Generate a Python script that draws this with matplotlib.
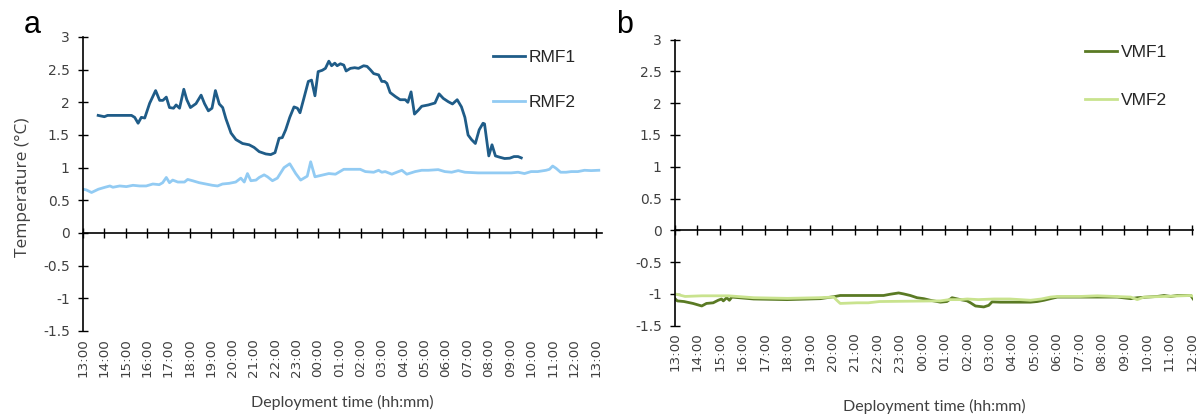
import matplotlib
matplotlib.use("Agg")
import matplotlib.pyplot as plt

# ---------------- data (hours since 13:00) ----------------
rmf1_h = [0.71, 1.00, 1.15, 2.27, 2.42, 2.58, 2.73, 2.89, 3.12, 3.40, 3.59, 3.74, 3.90, 4.05,
          4.24, 4.36, 4.52, 4.72, 4.86, 5.03, 5.29, 5.53, 5.69, 5.87, 6.04, 6.20, 6.38, 6.54,
          6.69, 6.93, 7.16, 7.47, 7.78, 8.01, 8.25, 8.56, 8.79, 8.99, 9.18, 9.33, 9.49, 9.68,
          9.88, 10.04, 10.16, 10.34, 10.55, 10.70, 10.86, 11.01, 11.20, 11.35, 11.51, 11.64,
          11.79, 11.90, 12.05, 12.21, 12.32, 12.52, 12.72, 12.90, 13.14, 13.30, 13.45, 13.61,
          13.84, 13.99, 14.12, 14.23, 14.38, 14.62, 14.85, 15.09, 15.21, 15.36, 15.52, 15.70,
          15.86, 16.17, 16.48, 16.67, 16.87, 17.10, 17.30, 17.52, 17.72, 17.88, 18.03, 18.19,
          18.37, 18.55, 18.73, 18.80, 19.00, 19.15, 19.31, 19.51, 19.74, 19.98, 20.18, 20.37,
          20.52]
rmf1_v = [1.80, 1.78, 1.80, 1.80, 1.77, 1.68, 1.77, 1.76, 1.985, 2.18, 2.03, 2.03, 2.08, 1.92,
          1.91, 1.96, 1.91, 2.20, 2.04, 1.92, 1.98, 2.11, 1.98, 1.87, 1.91, 2.18, 1.975, 1.92,
          1.75, 1.53, 1.43, 1.37, 1.35, 1.31, 1.245, 1.21, 1.20, 1.23, 1.45, 1.46, 1.58, 1.77,
          1.93, 1.91, 1.84, 2.06, 2.32, 2.34, 2.10, 2.47, 2.49, 2.52, 2.63, 2.56,
          2.60, 2.56, 2.59, 2.57, 2.48, 2.52, 2.53, 2.52, 2.56, 2.55, 2.50, 2.44,
          2.42, 2.32, 2.32, 2.29, 2.15, 2.09, 2.04, 2.04, 2.00, 2.16, 1.82, 1.88,
          1.94, 1.96, 1.99, 2.13, 2.06, 2.01, 1.975, 2.04, 1.93, 1.77, 1.50, 1.43,
          1.37, 1.58, 1.68, 1.67, 1.18, 1.35, 1.18, 1.16, 1.14, 1.145, 1.17, 1.17,
          1.15]

rmf2_h = [0.00, 0.15, 0.40, 0.72, 1.03, 1.26, 1.40, 1.72, 2.03, 2.34, 2.65, 2.96, 3.27, 3.57,
          3.73, 3.90, 4.05, 4.20, 4.44, 4.75, 4.90, 5.13, 5.44, 5.75, 6.06, 6.30, 6.53, 6.84,
          7.15, 7.39, 7.55, 7.70, 7.86, 8.10, 8.25, 8.48, 8.64, 8.87, 9.10, 9.41, 9.68, 9.96,
          10.19, 10.50, 10.66, 10.86, 11.12, 11.51, 11.82, 12.21, 12.98, 13.22, 13.61, 13.84,
          13.99, 14.15, 14.46, 14.69, 14.93, 15.16, 15.55, 15.86, 16.17, 16.63, 16.94, 17.26,
          17.57, 17.88, 18.50, 19.43, 20.05, 20.37, 20.67, 20.98, 21.29, 21.68, 21.84, 21.99,
          22.15, 22.36, 22.62, 22.86, 23.17, 23.48, 23.79, 24.15]
rmf2_v = [0.67, 0.66, 0.62, 0.67, 0.70, 0.72, 0.70, 0.72, 0.71, 0.73, 0.72, 0.72, 0.75, 0.74,
          0.77, 0.85, 0.77, 0.81, 0.78, 0.78, 0.82, 0.80, 0.77, 0.75, 0.73, 0.72, 0.75, 0.76,
          0.78, 0.84, 0.78, 0.91, 0.80, 0.81, 0.85, 0.89, 0.86, 0.80, 0.84, 1.00, 1.06, 0.91,
          0.81, 0.87, 1.09, 0.86, 0.88, 0.91, 0.90, 0.975, 0.975, 0.94, 0.93, 0.96,
          0.93, 0.94, 0.90, 0.93, 0.96, 0.90, 0.94, 0.96, 0.96, 0.97, 0.94, 0.93,
          0.955, 0.93, 0.92, 0.92, 0.92, 0.93, 0.91, 0.94, 0.94, 0.96, 0.975, 1.025,
          0.99, 0.93, 0.93, 0.94, 0.94, 0.96, 0.955, 0.96]

vmf1_h = [0.00, 0.10, 0.40, 0.80, 1.19, 1.40, 1.70, 1.92, 2.07, 2.15, 2.30, 2.42, 2.53, 3.50,
          4.98, 6.47, 7.13, 7.35, 9.28, 9.58, 9.95, 10.17, 10.47, 10.77, 11.07, 11.36, 11.81,
          12.10, 12.33, 12.70, 13.00, 13.15, 13.37, 13.74, 13.96, 14.11, 14.48, 15.08, 15.82,
          16.12, 16.42, 16.71, 17.01, 17.60, 18.79, 19.68, 20.28, 20.57, 21.02, 21.46, 21.76,
          22.06, 22.35, 22.95, 23.08]
vmf1_v = [-1.075, -1.11, -1.12, -1.15, -1.19, -1.15, -1.14, -1.10, -1.08, -1.11, -1.06, -1.10, -1.05, -1.08,
          -1.09, -1.075, -1.04, -1.025, -1.025, -1.005, -0.985, -1.00, -1.025, -1.06, -1.075, -1.10, -1.13,
          -1.12, -1.06, -1.09, -1.11, -1.14, -1.19, -1.205, -1.18, -1.125, -1.13, -1.13, -1.13,
          -1.12, -1.10, -1.075, -1.05, -1.05, -1.05, -1.05, -1.075, -1.06, -1.05, -1.04, -1.025,
          -1.04, -1.025, -1.025, -1.09]

vmf2_h = [0.00, 0.45, 1.20, 2.38, 3.50, 5.00, 6.40, 7.06, 7.20, 7.35, 8.10, 8.60, 9.10, 11.66,
          11.81, 12.20, 12.70, 13.00, 13.50, 14.20, 14.90, 15.82, 16.30, 16.71, 17.01, 18.05,
          18.79, 20.28, 20.57, 20.87, 21.76, 22.95, 23.08]
vmf2_v = [-1.00, -1.04, -1.03, -1.03, -1.06, -1.07, -1.06, -1.05, -1.10, -1.15, -1.14, -1.14, -1.12, -1.11,
          -1.11, -1.09, -1.09, -1.08, -1.09, -1.08, -1.08, -1.10, -1.08, -1.05, -1.04, -1.04,
          -1.03, -1.05, -1.09, -1.05, -1.04, -1.025, -1.04]

ticks_a = ["13:00", "14:00", "15:00", "16:00", "17:00", "18:00", "19:00", "20:00", "21:00",
           "22:00", "23:00", "00:00", "01:00", "02:00", "03:00", "04:00", "05:00", "06:00",
           "07:00", "08:00", "09:00", "10:00", "11:00", "12:00", "13:00"]
ticks_b = ticks_a[:-1]
yticks = [-1.5, -1, -0.5, 0, 0.5, 1, 1.5, 2, 2.5, 3]
ytick_labels = ["-1.5", "-1", "-0.5", "0", "0.5", "1", "1.5", "2", "2.5", "3"]

# ---------------- styling ----------------
C_RMF1 = "#1F5C88"
C_RMF2 = "#92CBF3"
C_VMF1 = "#5A7A24"
C_VMF2 = "#C9E38E"
TXT = "#404040"

W, H = 1202, 417
fig = plt.figure(figsize=(W / 100, H / 100), dpi=100)


def px_axes(l, r, t, b):
    return fig.add_axes([l / W, 1 - b / H, (r - l) / W, (b - t) / H])


def style(ax, labels, xmax, xlabelpad):
    ax.set_ylim(-1.5, 3)
    ax.set_xlim(0, xmax)
    for s in ("top", "right", "bottom"):
        ax.spines[s].set_visible(False)
    ax.spines["left"].set_color("black")
    ax.spines["left"].set_linewidth(1.2)
    ax.set_yticks(yticks)
    ax.set_yticklabels(ytick_labels)
    ax.tick_params(axis="y", direction="inout", length=7, width=1.0, color="black",
                   labelsize=10, labelcolor=TXT, pad=6)
    pos = list(range(len(labels)))
    ax.set_xticks(pos)
    ax.set_xticklabels(labels, rotation=90, fontsize=9.7, color=TXT)
    ax.tick_params(axis="x", length=0, pad=5)
    # zero axis line with crossing ticks
    sec = ax.secondary_xaxis(1 / 3)
    sec.set_xticks(pos)
    sec.tick_params(axis="x", direction="inout", length=7, width=1.0, color="black",
                    labelbottom=False, labeltop=False)
    for s in sec.spines.values():
        s.set_color("black")
        s.set_linewidth(1.2)
    ax.set_xlabel("Deployment time (hh:mm)", fontsize=11.5, color=TXT,
                  family=["Lato", "DejaVu Sans"], labelpad=xlabelpad)


# panel a
axa = px_axes(83, 602, 37, 331)
style(axa, ticks_a, 24.3, 13)
axa.plot(rmf1_h, rmf1_v, color=C_RMF1, lw=2.0, label="RMF1", solid_joinstyle="round")
axa.plot(rmf2_h, rmf2_v, color=C_RMF2, lw=2.0, label="RMF2", solid_joinstyle="round")
axa.set_ylabel("Temperature (°C)", fontsize=12.5, color=TXT, family=["Open Sans", "DejaVu Sans"],
               labelpad=3)
axa.yaxis.set_label_coords(-52 / 519, (331 - 187) / 294)
leg = axa.legend(loc="upper left", bbox_to_anchor=(493 / W, 1 - 50 / H),
                 bbox_transform=fig.transFigure, frameon=False, borderpad=0, borderaxespad=0,
                 handlelength=1.85, handletextpad=0.2, labelspacing=1.72,
                 prop={"family": "Liberation Sans", "size": 12.5})
for t in leg.get_texts():
    t.set_color("#262626")

# panel b
axb = px_axes(675, 1193, 39.5, 325.7)
style(axb, ticks_b, 23.05, 20)
axb.plot(vmf1_h, vmf1_v, color=C_VMF1, lw=2.0, label="VMF1", solid_joinstyle="round")
axb.plot(vmf2_h, vmf2_v, color=C_VMF2, lw=2.0, label="VMF2", solid_joinstyle="round")
leg2 = axb.legend(loc="upper left", bbox_to_anchor=(1085 / W, 1 - 45 / H),
                  bbox_transform=fig.transFigure, frameon=False, borderpad=0, borderaxespad=0,
                  handlelength=1.85, handletextpad=0.2, labelspacing=1.9,
                  prop={"family": "Liberation Sans", "size": 12.5})
for t in leg2.get_texts():
    t.set_color("#262626")

fig.text(24 / W, 1 - 33 / H, "a", fontsize=22, family="Liberation Sans", color="black")
fig.text(616 / W, 1 - 33 / H, "b", fontsize=22, family="Liberation Sans", color="black")

fig.savefig("out.png", dpi=100)
